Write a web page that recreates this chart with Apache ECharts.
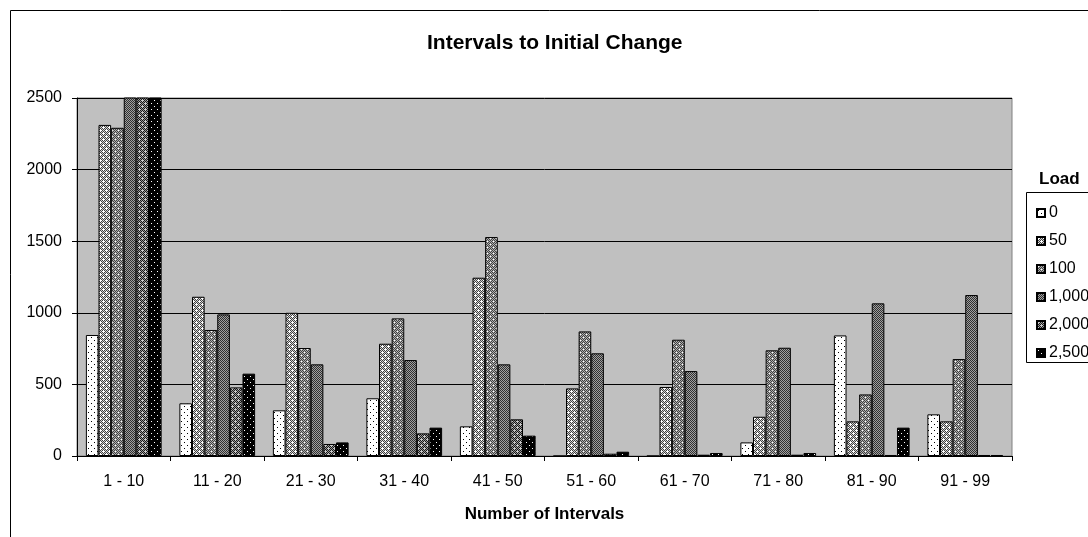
<!DOCTYPE html>
<html>
<head>
<meta charset="utf-8">
<script src="https://cdn.jsdelivr.net/npm/echarts@6/dist/echarts.min.js"></script>
<style>
html,body{margin:0;padding:0;background:#fff;}
#chart{width:1088px;height:537px;}
</style>
</head>
<body>
<div id="chart"></div>
<script>
// ---- data ----
const categories = ['1 - 10','11 - 20','21 - 30','31 - 40','41 - 50','51 - 60','61 - 70','71 - 80','81 - 90','91 - 99'];
const loadNames = ['0','50','100','1,000','2,000','2,500'];
const load0    = [845, 368, 319, 403, 207, 0, 0, 95, 842, 291];
const load50   = [2312, 1112, 1000, 784, 1245, 472, 482, 274, 242, 242];
const load100  = [2292, 880, 754, 961, 1529, 870, 812, 738, 430, 677];
const load1000 = [2700, 989, 640, 670, 640, 717, 593, 756, 1066, 1124];
const load2000 = [2700, 479, 84, 158, 256, 16, 9, 9, 7, 7];
const load2500 = [2700, 575, 95, 198, 142, 30, 21, 21, 198, 7];
const yTicks = [0, 500, 1000, 1500, 2000, 2500];

// ---- patterns ----
function tile(size, fn) {
  const c = document.createElement('canvas');
  c.width = size; c.height = size;
  const ctx = c.getContext('2d');
  for (let y = 0; y < size; y++) for (let x = 0; x < size; x++) {
    ctx.fillStyle = fn(x, y); ctx.fillRect(x, y, 1, 1);
  }
  return {image: c, repeat: 'repeat'};
}
function isDot(x, y) { return (x === 1 && y === 1) || (x === 4 && y === 4); }
function isPlus(x, y) {
  const near = (cx, cy) => {
    const dx = Math.min(Math.abs(x - cx), 6 - Math.abs(x - cx));
    const dy = Math.min(Math.abs(y - cy), 6 - Math.abs(y - cy));
    return (dx === 0 && dy <= 1) || (dy === 0 && dx <= 1);
  };
  return near(1, 1) || near(4, 4);
}
const patterns = [
  tile(6, (x, y) => isDot(x, y) ? '#000' : '#fff'),
  tile(6, (x, y) => isPlus(x, y) ? '#fff' : ((x + y) % 2 ? '#d0d0d0' : '#404040')),
  tile(6, (x, y) => isDot(x, y) ? '#fff' : ((x + y) % 2 ? '#b0b0b0' : '#404040')),
  tile(6, (x, y) => (x + y) % 2 ? '#a0a0a0' : '#303030'),
  tile(6, (x, y) => isPlus(x, y) ? '#c8c8c8' : ((x + y) % 2 ? '#989898' : '#181818')),
  tile(6, (x, y) => isDot(x, y) ? '#fff' : '#000')
];

const seriesData = [load0, load50, load100, load1000, load2000, load2500];
const font = 'Liberation Sans, Arial, sans-serif';

const chart = echarts.init(document.getElementById('chart'), null, {renderer: 'canvas'});
chart.setOption({
  animation: false,
  backgroundColor: '#fff',
  textStyle: {fontFamily: font, color: '#000'},
  grid: {left: 77, top: 98, width: 935, height: 358, show: true, backgroundColor: '#c0c0c0', borderColor: '#808080', borderWidth: 1},
  xAxis: {
    type: 'category', data: categories,
    axisLine: {show: true, lineStyle: {color: '#000', width: 1}},
    axisTick: {show: true, alignWithLabel: false, length: 5, lineStyle: {color: '#000'}},
    axisLabel: {margin: 18, fontSize: 16, color: '#000', fontFamily: font},
    name: 'Number of Intervals', nameLocation: 'middle', nameGap: 50,
    nameTextStyle: {fontSize: 17, fontWeight: 'bold', color: '#000', fontFamily: font}
  },
  yAxis: {
    type: 'value', min: 0, max: 2500, interval: 500,
    axisLine: {show: true, lineStyle: {color: '#000', width: 1}},
    axisTick: {show: true, length: 5, lineStyle: {color: '#000'}},
    axisLabel: {margin: 15, fontSize: 16, color: '#000', fontFamily: font,
      formatter: v => yTicks.indexOf(v) >= 0 ? String(v) : ''},
    splitLine: {show: true, lineStyle: {color: '#000', width: 1}}
  },
  legend: {
    orient: 'vertical', left: 1031, top: 199,
    icon: 'rect', itemWidth: 8, itemHeight: 8, itemGap: 10,
    data: loadNames,
    textStyle: {fontSize: 16, color: '#000', fontFamily: font, lineHeight: 18, padding: [0, 0, 0, -1]},
    selectedMode: false
  },
  series: seriesData.map((d, i) => ({
    name: loadNames[i], type: 'bar', data: d,
    barGap: '0%', barCategoryGap: '19%', clip: true,
    itemStyle: {color: patterns[i], borderColor: '#000', borderWidth: 1}
  })),
  graphic: [
    {type: 'rect', z: -10, silent: true, shape: {x: 10.5, y: 10.5, width: 1100, height: 600},
      style: {fill: 'none', stroke: '#000', lineWidth: 1}},
    {type: 'rect', z: 0, silent: true, shape: {x: 1026.5, y: 192.5, width: 100, height: 170},
      style: {fill: '#fff', stroke: '#000', lineWidth: 1}},
    {type: 'text', z: 10, left: 1039, top: 171,
      style: {text: 'Load', fontSize: 17, fontWeight: 'bold', fill: '#000', fontFamily: font}},
    {type: 'text', z: 10, left: 427, top: 33,
      style: {text: 'Intervals to Initial Change', fontSize: 21, fontWeight: 'bold', fill: '#000', fontFamily: font}}
  ]
});
</script>
</body>
</html>
